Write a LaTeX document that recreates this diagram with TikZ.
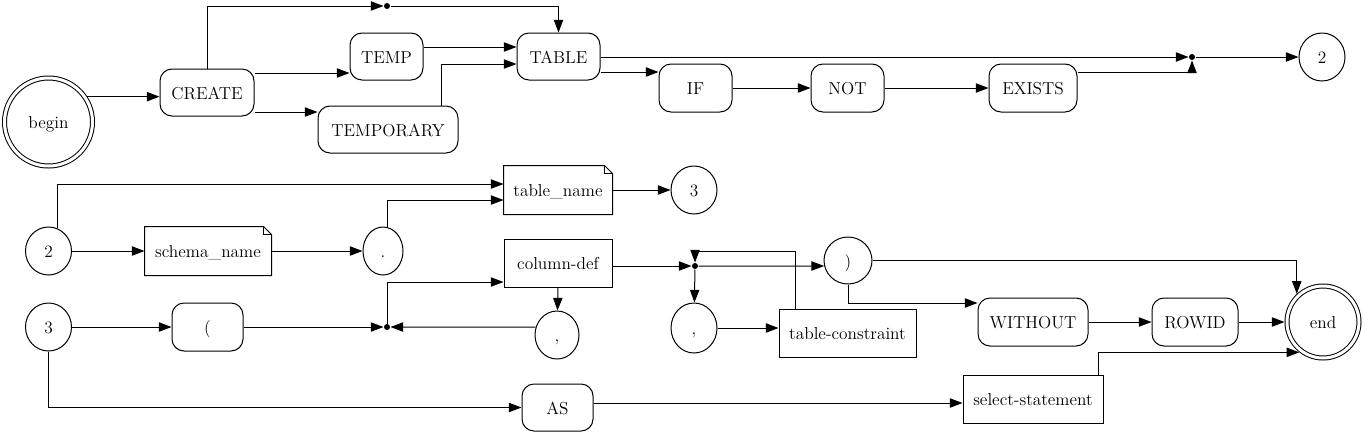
\documentclass[tikz,border=0pt]{standalone}
\usetikzlibrary{arrows.meta,shapes.geometric}
\begin{document}
\begin{tikzpicture}[x=0.75pt,y=-0.75pt, line width=0.75pt,
  lbl/.style={font=\fontsize{13}{15}\selectfont, inner sep=0pt, text height=10.8pt, text depth=0.6pt},
  kw/.style={lbl, draw, rectangle, rounded corners=9pt, minimum height=35.25pt},
  nt/.style={lbl, draw, rectangle, minimum height=36pt},
  notebox/.style={lbl, rectangle, minimum height=36pt},
  term/.style={lbl, draw, ellipse, minimum width=34.5pt, minimum height=36pt},
  dbl/.style={lbl, draw, circle, double, double distance=2.25pt, outer sep=1.875pt},
  jn/.style={circle, fill, inner sep=0pt, minimum size=4.5pt},
  arr/.style={-{Triangle[length=9.5pt,width=7pt]}}]
\useasboundingbox (0,0) rectangle (1363,433);
% nodes
\node[dbl, minimum size=66pt] (begin) at (48.5,122) {begin};
\node[kw, minimum width=70.5pt] (create) at (207,92.5) {CREATE};
\node[kw, minimum width=54.75pt] (temp) at (386.5,56.5) {TEMP};
\node[kw, minimum width=105pt] (tmpry) at (388,129.5) {TEMPORARY};
\node[kw, minimum width=62.25pt] (table) at (558.5,56.5) {TABLE};
\node[jn] (dA) at (387,6) {};
\node[kw, minimum width=54.75pt, minimum height=36pt] (if) at (695.5,88) {IF};
\node[kw, minimum width=54.75pt, minimum height=36pt] (not) at (847.5,88) {NOT};
\node[kw, minimum width=66pt, minimum height=36pt] (exists) at (1033,88) {EXISTS};
\node[jn] (dB) at (1192,57) {};
\node[term] (twoA) at (1322,57) {2};
\node[term] (twoB) at (48.5,251) {2};
\node[notebox, minimum width=94.5pt] (schema) at (208,251) {schema\_name};
\node[term, minimum width=30pt] (dotn) at (383,251) {.};
\node[notebox, minimum width=81pt] (tname) at (558,190) {table\_name};
\node[term] (threeA) at (694,190) {3};
\node[term] (threeB) at (48.5,327) {3};
\node[kw, minimum width=53.25pt, minimum height=36pt] (paren) at (207.5,327) {(};
\node[jn] (dC) at (387,327) {};
\node[nt, minimum width=81pt] (coldef) at (558,263) {column-def};
\node[term, minimum width=33pt] (commaA) at (557,335) {,};
\node[jn] (dD) at (695,266) {};
\node[term, minimum width=36pt, minimum height=35.25pt] (rparen) at (848,260.5) {)};
\node[term, minimum height=37.5pt] (commaB) at (694,328) {,};
\node[nt, minimum width=102.75pt] (tcons) at (847.5,333) {table-constraint};
\node[kw, minimum width=82.5pt, minimum height=36pt] (without) at (1033,322) {WITHOUT};
\node[kw, minimum width=64.5pt, minimum height=36pt] (rowid) at (1195,322) {ROWID};
\node[dbl, minimum size=54pt] (end) at (1323,322) {end};
\node[nt, minimum width=105pt] (sel) at (1033,399) {select-statement};
\node[kw, minimum width=53.25pt] (as) at (557.5,407.5) {AS};
% note outlines
\foreach \n in {schema,tname}{
  \draw ([xshift=-6pt]\n.north east) -- (\n.north west) -- (\n.south west) -- (\n.south east) -- ([yshift=-6pt]\n.north east) -- cycle;
  \draw ([xshift=-6pt]\n.north east) |- ([yshift=-6pt]\n.north east);
}
% connectors, top row
\draw[arr] (begin.33) -- (create.west |- begin.33);
\draw[arr] (create.north) |- (dA);
\draw[arr] (dA) -| (table.north);
\draw[arr] (create.east |- 0,73) -- (temp.west |- 0,73);
\draw[arr] (create.east |- 0,112) -- (tmpry.west |- 0,112);
\draw[arr] (temp.east |- 0,47) -- (table.west |- 0,47);
\draw[arr] (tmpry.north -| 441,0) |- (table.west |- 0,64);
\draw[arr] (table.east |- dB) -- (dB);
\draw[arr] (table.east |- 0,72) -- (if.west |- 0,72);
\draw[arr] (if) -- (not);
\draw[arr] (not) -- (exists);
\draw[arr] (exists.east |- 0,72) -| (dB);
\draw[arr] (dB) -- (twoA);
% middle row
\draw[arr] (twoB.68) |- (tname.west |- 0,184);
\draw[arr] (twoB) -- (schema);
\draw[arr] (schema) -- (dotn);
\draw[arr] (dotn.80) |- (tname.west |- 0,200);
\draw[arr] (tname) -- (threeA);
% third row
\draw[arr] (threeB) -- (paren);
\draw[arr] (paren) -- (dC);
\draw[arr] (dC) |- (coldef.west |- 0,282);
\draw[arr] (coldef.south) -- (commaA);
\draw[arr] (commaA.160) -- (dC);
\draw[arr] (coldef.east |- dD) -- (dD);
\draw[arr] (dD) -- (rparen.193);
\draw[arr] (dD) -- (commaB);
\draw[arr] (commaB) -- (tcons.west |- commaB);
\draw[arr] (tcons.north -| 795,0) |- (dD |- 0,251) -- (dD);
\draw[arr] (rparen) -| (end.133);
\draw[arr] (rparen.south) |- (without.west |- 0,303);
\draw[arr] (without) -- (rowid);
\draw[arr] (rowid) -- (end);
\draw[arr] (sel.north -| 1098,0) |- (end.232);
\draw[arr] (threeB.south) |- (as);
\draw[arr] (as.east |- 0,403) -- (sel.west |- 0,403);
\end{tikzpicture}
\end{document}
